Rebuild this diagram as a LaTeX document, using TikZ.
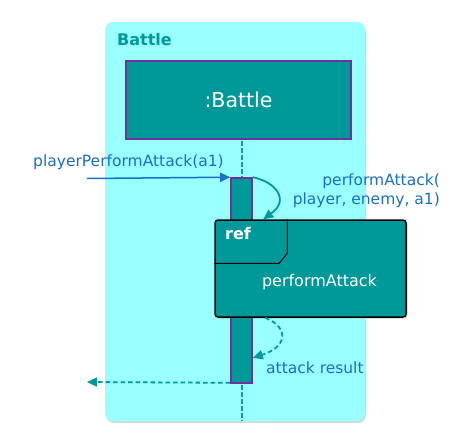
\documentclass[tikz,border=0pt]{standalone}
\usepackage{fontspec}
\setmainfont{DejaVu Sans}
\usepackage{tikz}
\usetikzlibrary{arrows.meta, shadows}
\definecolor{bgcyan}{RGB}{153,255,255}
\definecolor{battleteal}{RGB}{0,153,153}
\definecolor{lifepurple}{RGB}{112,48,160}
\definecolor{msgblue}{RGB}{26,110,200}

\begin{document}
\begin{tikzpicture}[x=1pt, y=-1pt, >={Triangle[length=10pt, width=9pt]}]
	\useasboundingbox (0,0) rectangle (461,442);
	\tikzstyle{bar}=[fill=battleteal, draw=lifepurple, line width=1.6pt, inner sep=0pt]
	\tikzstyle{lbl}=[text=msgblue, inner sep=0pt, font=\fontsize{15.5}{19}\selectfont]
	\tikzstyle{lifeline}=[battleteal!75!gray, line width=2pt, dash pattern=on 5pt off 2pt]
	\tikzstyle{reply}=[->, battleteal, line width=1.8pt, dash pattern=on 4.5pt off 3pt]
	% frame
	\fill[black!15, rounded corners=8pt] (106,24) rectangle (366,423);
	\fill[bgcyan, rounded corners=8pt] (105,22) rectangle (365,421);
	\node[anchor=base west, inner sep=0pt, text=battleteal, font=\bfseries\fontsize{16}{19}\selectfont] (title) at (117,45) {Battle};
	\node[bar, minimum width=225pt, minimum height=78pt, text=white, font=\fontsize{20.5}{24}\selectfont,
	      drop shadow={shadow xshift=1pt, shadow yshift=-1pt, opacity=0.25}] (battle) at (238.5,100) {:Battle};
	\coordinate (bottom) at (241.5,421);
	% activation
	\node[bar, minimum width=21pt, minimum height=205pt,
	      drop shadow={shadow xshift=1pt, shadow yshift=-1pt, opacity=0.25}] (act) at (241.5,280.5) {};
	\draw[lifeline] ([yshift=-0.8pt]act.north |- battle.south) -- ([yshift=0.8pt]act.north);
	\draw[lifeline] ([yshift=-0.8pt]act.south) -- (act.south |- bottom);
	% ref frame
	\node[fill=battleteal, draw=black, line width=1.5pt, rounded corners=3pt, minimum width=191pt, minimum height=97pt,
	      drop shadow={shadow xshift=1.5pt, shadow yshift=-1.5pt, opacity=0.35}] (ref) at (310.5,268.5) {};
	\draw[line width=1pt] ([xshift=73pt]ref.north west) -- ++(0,34) -- ++(-8,10) coordinate (tagend) -- (tagend -| ref.west);
	\node[text=white, font=\bfseries\fontsize{16}{19}\selectfont] (reftag) at (238,234) {ref};
	\node[text=white, font=\fontsize{16}{19}\selectfont] (refname) at (319.5,282) {performAttack};
	% messages
	\coordinate (caller) at (87,178.5);
	\draw[->, msgblue, line width=1.5pt] (caller) -- (act.north west);
	\node[lbl, anchor=base west] (callLbl) at (33,166) {playerPerformAttack(a1)};
	\draw[->, battleteal, line width=1.8pt] (act.north east) .. controls (276,182) and (290,200) .. ([xshift=49pt]ref.north west);
	\node[lbl, anchor=north east, align=right] (selfLbl) at (440,174) {performAttack(\\player, enemy, a1)};
	\draw[reply] ([xshift=51pt]ref.south west) .. controls (290,328) and (287,347) .. ([yshift=26pt]act.south east);
	\node[lbl, anchor=base west] (resLbl) at (266,373) {attack result};
	\coordinate (ret) at (87,382);
	\draw[reply] ([yshift=1pt]act.south west) -- (ret);
\end{tikzpicture}
\end{document}
